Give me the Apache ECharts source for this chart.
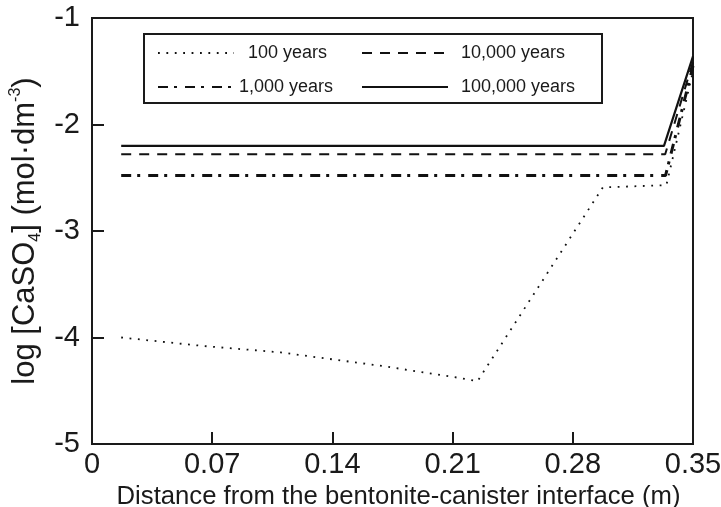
<!DOCTYPE html>
<html>
<head>
<meta charset="utf-8">
<script src="https://cdn.jsdelivr.net/npm/echarts@6/dist/echarts.min.js"></script>
<style>html,body{margin:0;padding:0;background:#fff}#c{width:721px;height:507px}</style>
</head>
<body>
<div id="c"></div>
<script>
// Data: [distance (m), log concentration]
var seriesNames = ['100 years', '1,000 years', '10,000 years', '100,000 years'];
var y100 = [[0.017,-4.00],[0.065,-4.08],[0.11,-4.14],[0.17,-4.27],[0.214,-4.38],[0.2245,-4.41],[0.2975,-2.59],[0.3345,-2.57],[0.35,-1.50]];
var y1000 = [[0.017,-2.48],[0.3340,-2.48],[0.35,-1.45]];
var y10000 = [[0.017,-2.28],[0.3338,-2.28],[0.35,-1.41]];
var y100000 = [[0.017,-2.20],[0.3331,-2.20],[0.35,-1.36]];
var xTickLabels = ['0','0.07','0.14','0.21','0.28','0.35'];
var yTickLabels = ['-5','-4','-3','-2','-1'];

var FONT = 'Liberation Sans, Arial, sans-serif';
var TXT = '#1a1a1a';
var chart = echarts.init(document.getElementById('c'), null, {renderer:'canvas'});

function mk(name, data, width, type) {
  return {
    name: name, type: 'line', data: data, symbol: 'none', showSymbol: false,
    lineStyle: {color: '#111', width: width, type: type, cap: 'butt'},
    itemStyle: {color: '#111'}, z: 2, animation: false
  };
}

chart.setOption({
  animation: false,
  backgroundColor: '#fff',
  grid: {left: 92, right: 28, top: 18, bottom: 63, outerBoundsMode: 'none', containLabel: false,
    show: true, borderColor: '#1a1a1a', borderWidth: 2, backgroundColor: 'transparent'},
  xAxis: {
    type: 'value', min: 0, max: 0.35, interval: 0.07,
    axisLine: {show: true, lineStyle: {color: '#1a1a1a', width: 2}},
    axisTick: {show: true, inside: true, length: 12, lineStyle: {color: '#1a1a1a', width: 2}},
    splitLine: {show: false},
    axisLabel: {fontFamily: FONT, fontSize: 29, color: TXT, margin: 6, showMaxLabel: true, showMinLabel: true,
      formatter: function (v, i) { return xTickLabels[i]; }},
    name: 'Distance from the bentonite-canister interface (m)',
    nameLocation: 'middle', nameGap: 36,
    nameTextStyle: {fontFamily: FONT, fontSize: 25.7, color: TXT, padding: [0,0,0,12]}
  },
  yAxis: {
    type: 'value', min: -5, max: -1, interval: 1,
    axisLine: {show: true, lineStyle: {color: '#1a1a1a', width: 2}},
    axisTick: {show: true, inside: true, length: 12, lineStyle: {color: '#1a1a1a', width: 2}},
    splitLine: {show: false},
    axisLabel: {fontFamily: FONT, fontSize: 29, color: TXT, margin: 12,
      formatter: function (v, i) { return yTickLabels[i]; }},
    name: '{n|log [CaSO}{sub|4}{n|] (mol·dm}{sup|-3}{n|)}',
    nameLocation: 'middle', nameGap: 45,
    nameTextStyle: {
      fontFamily: FONT, fontSize: 31, color: TXT,
      rich: {
        n: {fontFamily: FONT, fontSize: 31, color: TXT, lineHeight: 36},
        sub: {fontFamily: FONT, fontSize: 16, color: TXT, verticalAlign: 'bottom', lineHeight: 36},
        sup: {fontFamily: FONT, fontSize: 16, color: TXT, verticalAlign: 'top', lineHeight: 36}
      }
    }
  },
  graphic: [{
    type: 'rect', z: 3, silent: true,
    shape: {x: 144, y: 34, width: 458, height: 69},
    style: {fill: '#fff', stroke: '#1a1a1a', lineWidth: 2}
  }],
  legend: [{
    orient: 'vertical', left: 152, top: 39, itemGap: 16, itemWidth: 76, itemHeight: 14,
    itemStyle: {opacity: 0},
    data: [{name: '100 years', textStyle: {padding: [0,0,0,9]}}, {name: '1,000 years', textStyle: {padding: [0,0,0,0]}}],
    textStyle: {fontFamily: FONT, fontSize: 18, color: TXT},
    z: 5, selectedMode: false
  }, {
    orient: 'vertical', left: 356, top: 39, itemGap: 16, itemWidth: 86, itemHeight: 14,
    itemStyle: {opacity: 0},
    data: ['10,000 years', '100,000 years'],
    textStyle: {fontFamily: FONT, fontSize: 18, color: TXT, padding: [0,0,0,8]},
    z: 5, selectedMode: false
  }],
  series: [
    mk(seriesNames[0], y100, 1.8, [1.8, 6.6]),
    mk(seriesNames[1], y1000, 3, [10, 6, 3, 8]),
    mk(seriesNames[2], y10000, 2, [10, 8]),
    mk(seriesNames[3], y100000, 2.2, 'solid')
  ]
});
</script>
</body>
</html>
